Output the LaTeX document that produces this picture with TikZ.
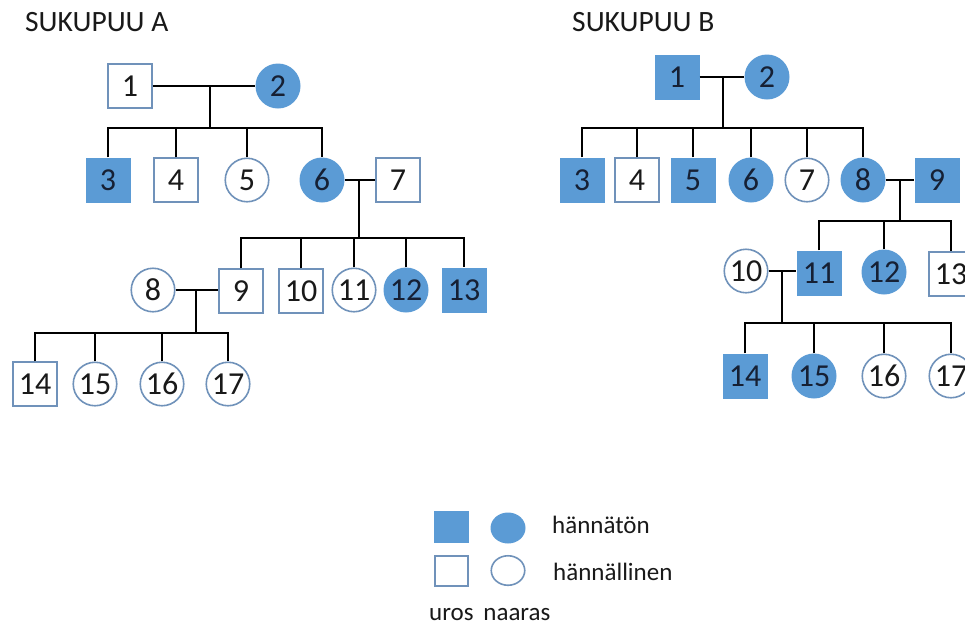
\documentclass[tikz,border=0pt]{standalone}
\usepackage{fontspec}
\setmainfont{Carlito}
\definecolor{fillblue}{RGB}{91,155,213}
\definecolor{edgeblue}{RGB}{112,146,186}
\definecolor{txtdark}{RGB}{25,25,25}
\definecolor{txtnavy}{RGB}{22,32,52}
\tikzset{
  numtext/.style={inner sep=0pt, font=\fontsize{32}{32}\selectfont, text=txtdark},
  esq/.style={numtext, rectangle, minimum size=43.5pt, draw=edgeblue, line width=1.6pt, fill=white},
  fsq/.style={numtext, rectangle, minimum size=45pt, fill=fillblue, text=txtnavy},
  eci/.style={numtext, circle, minimum size=43.5pt, draw=edgeblue, line width=1.6pt, fill=white},
  fci/.style={numtext, circle, minimum size=45pt, fill=fillblue, text=txtnavy},
  link/.style={line width=2.2pt, black},
  title/.style={anchor=base west, inner sep=0pt, font=\fontsize{29.5}{29.5}\selectfont, text=txtdark},
  legtext/.style={anchor=base west, inner sep=0pt, font=\fontsize{25}{25}\selectfont, text=txtdark},
  lfsq/.style={rectangle, minimum width=35pt, minimum height=32pt, fill=fillblue},
  lfci/.style={ellipse, minimum width=35pt, minimum height=31pt, fill=fillblue},
  lesq/.style={rectangle, minimum width=33.5pt, minimum height=30.5pt, draw=edgeblue, line width=1.6pt},
  leci/.style={ellipse, minimum width=33.5pt, minimum height=29.5pt, draw=edgeblue, line width=1.6pt},
}
\usetikzlibrary{shapes.geometric}
\begin{document}
\begin{tikzpicture}[x=1pt,y=-1pt]
\clip (0,0) rectangle (965,625);
\fill[white] (0,0) rectangle (965,625);

% ---------- titles ----------
\node[title] (tA) at (25,31) {SUKUPUU A};
\node[title] (tB) at (572,31) {SUKUPUU B};

% ---------- tree A ----------
\node[esq] (a1) at (130,86) {1};
\node[fci] (a2) at (278,86) {2};
\node[fsq] (a3) at (108,180) {3};
\node[esq] (a4) at (176,180) {4};
\node[eci] (a5) at (247,180) {5};
\node[fci] (a6) at (322,180) {6};
\node[esq] (a7) at (398,180) {7};
\node[eci] (a8) at (153,290) {8};
\node[esq] (a9) at (241,291) {9};
\node[esq] (a10) at (301,291) {10};
\node[eci] (a11) at (354,290) {11};
\node[fci] (a12) at (406,290) {12};
\node[fsq] (a13) at (464,290) {13};
\node[esq] (a14) at (35,384) {14};
\node[eci] (a15) at (95,384) {15};
\node[eci] (a16) at (162,384) {16};
\node[eci] (a17) at (228,384) {17};

\coordinate (am1) at (210,86);
\coordinate (ab1) at (210,128);
\draw[link] (a1.east) -- (a1.east -| a2.west);
\draw[link] (am1) -- (ab1);
\draw[link] (a3.north) |- (ab1) -| (a6.north);
\draw[link] (a4.north) -- (a4.north |- ab1);
\draw[link] (a5.north) -- (a5.north |- ab1);

\coordinate (am2) at (359,180);
\coordinate (ab2) at (359,238);
\draw[link] (a6.east) -- (a6.east -| a7.west);
\draw[link] (am2) -- (ab2);
\draw[link] (a9.north) |- (ab2) -| (a13.north);
\draw[link] (a10.north) -- (a10.north |- ab2);
\draw[link] (a11.north) -- (a11.north |- ab2);
\draw[link] (a12.north) -- (a12.north |- ab2);

\coordinate (am3) at (196,290);
\coordinate (ab3) at (196,333);
\draw[link] (a8.east) -- (a8.east -| a9.west);
\draw[link] (am3) -- (ab3);
\draw[link] (a14.north) |- (ab3) -| (a17.north);
\draw[link] (a15.north) -- (a15.north |- ab3);
\draw[link] (a16.north) -- (a16.north |- ab3);

% ---------- tree B ----------
\node[fsq] (b1) at (677,77) {1};
\node[fci] (b2) at (767,77) {2};
\node[fsq] (b3) at (582,180) {3};
\node[esq] (b4) at (637,180) {4};
\node[fsq] (b5) at (693,180) {5};
\node[fci] (b6) at (751,180) {6};
\node[eci] (b7) at (807,180) {7};
\node[fci] (b8) at (863,180) {8};
\node[fsq] (b9) at (937,180) {9};
\node[eci] (b10) at (746,271) {10};
\node[fsq] (b11) at (819,273) {11};
\node[fci] (b12) at (884,272) {12};
\node[esq] (b13) at (951,274) {13};
\node[fsq] (b14) at (745,376) {14};
\node[fci] (b15) at (814,376) {15};
\node[eci] (b16) at (884,376) {16};
\node[eci] (b17) at (951,376) {17};

\coordinate (bm1) at (723,77);
\coordinate (bb1) at (723,128);
\draw[link] (b1.east) -- (b1.east -| b2.west);
\draw[link] (bm1) -- (bb1);
\draw[link] (b3.north) |- (bb1) -| (b8.north);
\draw[link] (b4.north) -- (b4.north |- bb1);
\draw[link] (b5.north) -- (b5.north |- bb1);
\draw[link] (b6.north) -- (b6.north |- bb1);
\draw[link] (b7.north) -- (b7.north |- bb1);

\coordinate (bm2) at (900,180);
\coordinate (bb2) at (900,221);
\draw[link] (b8.east) -- (b8.east -| b9.west);
\draw[link] (bm2) -- (bb2);
\draw[link] (b11.north) |- (bb2) -| (b13.north);
\draw[link] (b12.north) -- (b12.north |- bb2);

\coordinate (bm3) at (782,271);
\coordinate (bb3) at (782,323);
\draw[link] (b10.east) -- (b10.east -| b11.west);
\draw[link] (bm3) -- (bb3);
\draw[link] (b14.north) |- (bb3) -| (b17.north);
\draw[link] (b15.north) -- (b15.north |- bb3);
\draw[link] (b16.north) -- (b16.north |- bb3);

% ---------- legend ----------
\node[lfsq] (l1) at (451.5,527) {};
\node[lfci] (l2) at (508,528) {};
\node[lesq] (l3) at (451.5,571) {};
\node[leci] (l4) at (508,570.5) {};
\node[legtext] (t1) at (552,533) {hännätön};
\node[legtext] (t2) at (553,580) {hännällinen};
\node[legtext] (t3) at (429,620) {uros\, naaras};
\end{tikzpicture}
\end{document}
